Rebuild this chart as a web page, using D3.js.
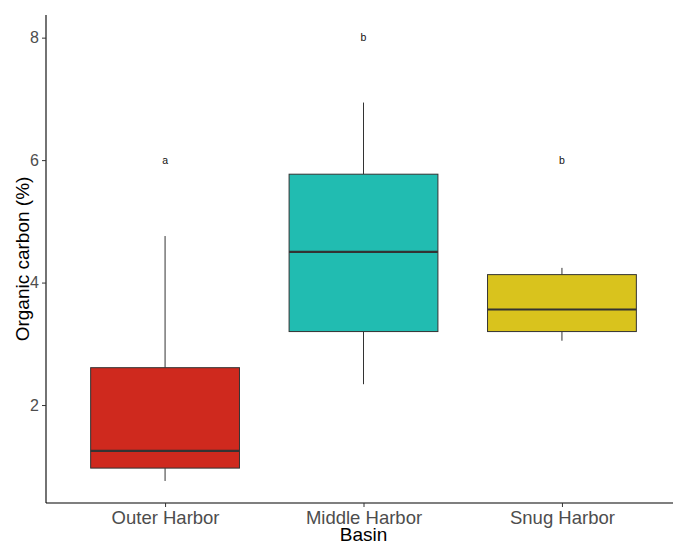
<!DOCTYPE html>
<html><head><meta charset="utf-8">
<script src="https://cdn.jsdelivr.net/npm/d3@7/dist/d3.min.js"></script>
<style>html,body{margin:0;padding:0;background:#fff;} svg{display:block;}</style>
</head><body>
<svg id="chart" width="673" height="542"></svg>
<script>
const categories = ["Outer Harbor", "Middle Harbor", "Snug Harbor"];
const whiskerLow  = [0.76, 2.34, 3.05];
const q1          = [0.97, 3.20, 3.20];
const median      = [1.25, 4.50, 3.56];
const q3          = [2.61, 5.77, 4.13];
const whiskerHigh = [4.76, 6.94, 4.24];
const letters     = ["a", "b", "b"];
const letterY     = [6, 8, 6];
const yTicks      = [2, 4, 6, 8];
const colors      = ["#CF291E", "#21BCB1", "#D9C31D"];

(function () {
const svg = d3.select("#chart");
const pLeft = 46, pRight = 681, pTop = 15, pBottom = 503;

const x = d3.scalePoint().domain(categories).range([pLeft, pRight]).padding(0.6);
const y = d3.scaleLinear().domain([0.4, 8.37]).range([pBottom, pTop]);
const boxW = x.step() * 0.75;

const data = categories.map((c, i) => ({
  c, lo: whiskerLow[i], q1: q1[i], med: median[i], q3: q3[i], hi: whiskerHigh[i],
  letter: letters[i], ly: letterY[i], color: colors[i]
}));

const g = svg.append("g");
g.selectAll(".wu").data(data).join("line")
  .attr("x1", d => x(d.c)).attr("x2", d => x(d.c))
  .attr("y1", d => y(d.q3)).attr("y2", d => y(d.hi))
  .attr("stroke", "#333").attr("stroke-width", 1);
g.selectAll(".wl").data(data).join("line")
  .attr("x1", d => x(d.c)).attr("x2", d => x(d.c))
  .attr("y1", d => y(d.q1)).attr("y2", d => y(d.lo))
  .attr("stroke", "#333").attr("stroke-width", 1);
g.selectAll(".box").data(data).join("rect")
  .attr("x", d => x(d.c) - boxW / 2).attr("width", boxW)
  .attr("y", d => y(d.q3)).attr("height", d => y(d.q1) - y(d.q3))
  .attr("fill", d => d.color).attr("stroke", "#333").attr("stroke-width", 1);
g.selectAll(".med").data(data).join("line")
  .attr("x1", d => x(d.c) - boxW / 2).attr("x2", d => x(d.c) + boxW / 2)
  .attr("y1", d => y(d.med)).attr("y2", d => y(d.med))
  .attr("stroke", "#333").attr("stroke-width", 2.2);
g.selectAll(".let").data(data).join("text")
  .attr("x", d => x(d.c)).attr("y", d => y(d.ly))
  .attr("dy", "0.35em").attr("text-anchor", "middle")
  .attr("font-family", "Liberation Sans, Arial, sans-serif").attr("font-size", 10.5)
  .attr("fill", "#111").text(d => d.letter);

const yAxis = svg.append("g").attr("transform", `translate(${pLeft},0)`)
  .call(d3.axisLeft(y).tickValues(yTicks).tickSize(4).tickPadding(3).tickFormat(d3.format("d")));
yAxis.select(".domain").attr("d", `M0,${pTop}V${pBottom}`).attr("stroke", "#000").attr("stroke-width", 1.1);
yAxis.selectAll(".tick line").attr("stroke", "#333");
yAxis.selectAll(".tick text").attr("fill", "#4d4d4d")
  .attr("font-family", "Liberation Sans, Arial, sans-serif").attr("font-size", 16);

const xAxis = svg.append("g").attr("transform", `translate(0,${pBottom})`)
  .call(d3.axisBottom(x).tickSize(4).tickPadding(4));
xAxis.select(".domain").attr("d", `M${pLeft},0H${pRight}`).attr("stroke", "#000").attr("stroke-width", 1.1);
xAxis.selectAll(".tick line").attr("stroke", "#333");
xAxis.selectAll(".tick text").attr("fill", "#4d4d4d")
  .attr("font-family", "Liberation Sans, Arial, sans-serif").attr("font-size", 18.5);

svg.append("text").attr("x", x("Middle Harbor")).attr("y", 541)
  .attr("text-anchor", "middle").attr("font-family", "Liberation Sans, Arial, sans-serif")
  .attr("font-size", 19).attr("fill", "#000").text("Basin");
svg.append("text").attr("transform", `translate(29,${(pTop + pBottom) / 2}) rotate(-90)`)
  .attr("text-anchor", "middle").attr("font-family", "Liberation Sans, Arial, sans-serif")
  .attr("font-size", 19).attr("fill", "#000").text("Organic carbon (%)");
})();
</script>
</body></html>
